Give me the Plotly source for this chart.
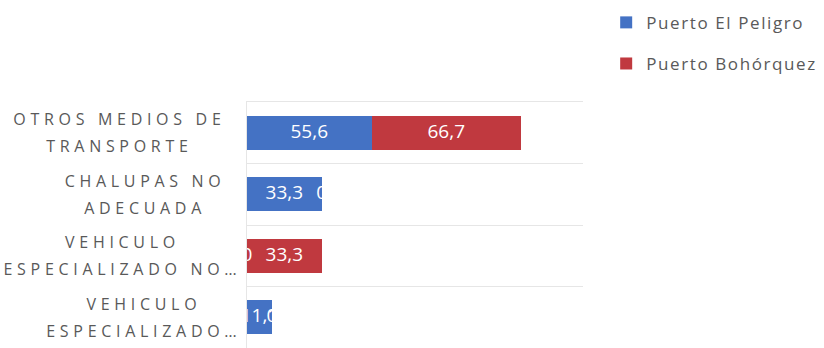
import plotly.graph_objects as go

# Categories (top to bottom) and the wrapped labels shown beside each bar
categories = [
    "OTROS MEDIOS DE TRANSPORTE",
    "CHALUPAS NO ADECUADA",
    "VEHICULO ESPECIALIZADO NO…",
    "VEHICULO ESPECIALIZADO…",
]
category_labels = [
    "OTROS MEDIOS DE<br>TRANSPORTE",
    "CHALUPAS NO<br>ADECUADA",
    "VEHICULO<br>ESPECIALIZADO NO…",
    "VEHICULO<br>ESPECIALIZADO…",
]

# Percentages per port
series_names = ["Puerto El Peligro", "Puerto Bohórquez"]
peligro = [55.6, 33.3, 0.0, 11.1]
bohorquez = [66.7, 0.0, 33.3, 0.0]
series_values = [peligro, bohorquez]
series_colors = ["#4472C4", "#C0393F"]

LABEL_GREY = "#595959"
LINE_GREY = "#e6e6e6"
FONT = "Open Sans"


def fmt(v):
    # general number format with a decimal comma
    return f"{v:g}".replace(".", ",")


fig = go.Figure()

# Stacked horizontal bars
for name, vals, col in zip(series_names, series_values, series_colors):
    fig.add_trace(go.Bar(
        orientation="h", x=vals, y=categories, name=name,
        marker=dict(color=col, line=dict(width=0)),
        legendgroup=name, hoverinfo="skip",
    ))

# Value labels centred on each segment (white, so they vanish off the bars)
base = [0.0] * len(categories)
for vals in series_values:
    mids = [b + v / 2 for b, v in zip(base, vals)]
    fig.add_trace(go.Scatter(
        x=mids, y=categories, mode="text",
        text=[fmt(v) for v in vals],
        textfont=dict(family=FONT, size=19, color="white"),
        showlegend=False, hoverinfo="skip", cliponaxis=False,
    ))
    base = [b + v for b, v in zip(base, vals)]

# Category labels, centred line-by-line and right-aligned as a block
for cat, lab in zip(categories, category_labels):
    fig.add_annotation(
        x=-0.05, xref="paper", y=cat, yref="y",
        text=lab, showarrow=False, xanchor="right", yanchor="middle",
        align="center", font=dict(family=FONT, size=16, color=LABEL_GREY),
    )

fig.update_layout(
    width=824, height=348,
    margin=dict(l=247, r=241, t=102, b=0),
    paper_bgcolor="white", plot_bgcolor="white",
    barmode="stack", bargap=0.45,
    showlegend=True,
    legend=dict(
        x=1.069, y=1.395, xanchor="left", yanchor="top",
        font=dict(family=FONT, size=17, color=LABEL_GREY),
        tracegroupgap=16, itemwidth=30, bgcolor="rgba(0,0,0,0)",
    ),
    xaxis=dict(range=[0, 150], showgrid=False, zeroline=False,
               showticklabels=False, ticks="", showline=True, mirror=True,
               linecolor=LINE_GREY, fixedrange=True),
    yaxis=dict(type="category", categoryorder="array", categoryarray=categories,
               autorange="reversed", showticklabels=False, ticks="",
               showgrid=True, gridcolor=LINE_GREY, gridwidth=1,
               tickson="boundaries", showline=True, linecolor=LINE_GREY,
               zeroline=False, fixedrange=True),
)

# Letter-spaced category labels with looser line pitch, re-anchored to the axis
# (truncated labels let their ellipsis hang a little closer to the bars);
# smaller legend swatches sitting close to their text
post = """
(function(){
  var gd = document.getElementById('{plot_id}');
  var RIGHT = 233.5, ELLIPSIS_HANG = 16;
  var texts = Array.prototype.slice.call(gd.querySelectorAll('.annotation-text'));
  var centers = texts.map(function(t){var r = t.getBoundingClientRect(); return (r.top + r.bottom) / 2;});
  var st = document.createElement('style');
  st.textContent = '.annotation-text{letter-spacing:4.7px}.legendtext{letter-spacing:1.6px}';
  document.head.appendChild(st);
  texts.forEach(function(t, k){
    t.querySelectorAll('tspan.line').forEach(function(ln, i){ ln.setAttribute('dy', (i * 1.65) + 'em'); });
    var r = t.getBoundingClientRect();
    var right = RIGHT + (t.textContent.indexOf('\\u2026') >= 0 ? ELLIPSIS_HANG : 0);
    var dx = right - r.right, dy = centers[k] - (r.top + r.bottom) / 2;
    t.setAttribute('transform', 'translate(' + dx + ',' + dy + ')');
  });
  gd.querySelectorAll('.legend .scrollbox').forEach(function(s){ s.removeAttribute('clip-path'); });
  gd.querySelectorAll('.legend path.legendbar').forEach(function(p){
    p.setAttribute('d', 'M4.5,4.5H-4.5V-4.5H4.5Z');
    p.setAttribute('transform', 'translate(36,0)');
  });
})();
"""

fig.write_html("out.html", post_script=post, config={"displayModeBar": False})
